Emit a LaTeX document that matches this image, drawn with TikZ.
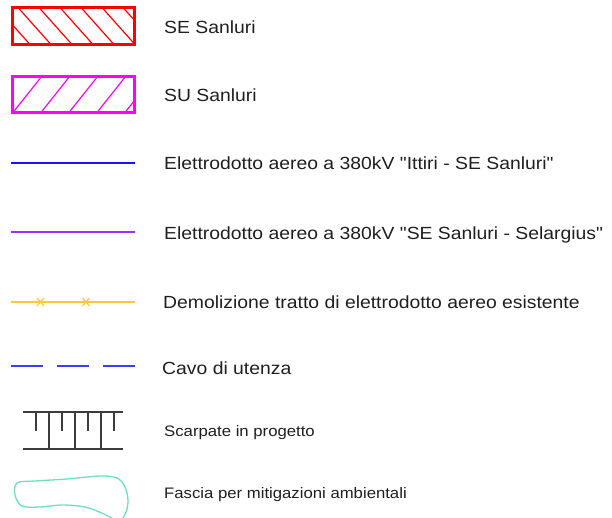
\documentclass[tikz,border=0pt]{standalone}
\usepackage{fontspec}
\setmainfont{Liberation Sans}[Ligatures=TeXOff]
\usepackage[x11names, svgnames, rgb]{xcolor}
\usepackage{tikz}
\usetikzlibrary{positioning}
\definecolor{seRed}{RGB}{255,0,0}
\definecolor{suMagenta}{RGB}{255,0,255}
\definecolor{ittiriBlue}{RGB}{20,20,255}
\definecolor{selPurple}{RGB}{150,50,255}
\definecolor{demYellow}{RGB}{255,200,60}
\definecolor{cavoBlue}{RGB}{60,60,255}
\definecolor{fasciaGreen}{RGB}{110,222,190}
\definecolor{scarpGray}{RGB}{60,60,60}
\tikzstyle{legtext}=[anchor=base west,inner sep=0pt,xscale=1.1,text=black!88,font=\fontsize{17.6}{20}\selectfont]
\tikzstyle{legsmall}=[legtext,font=\fontsize{15.2}{18}\selectfont]
\tikzstyle{area}=[line width=3pt]
\tikzstyle{hatch}=[line width=1.2pt]
\tikzstyle{wire}=[line width=2pt]
\tikzstyle{tick}=[scarpGray,line width=1.4pt]

\begin{document}
\begin{tikzpicture}[x=1pt,y=-1pt]
                \useasboundingbox (0,0) rectangle (612,517);

                % SE Sanluri
                \begin{scope}
                        \clip (12.5,7.5) rectangle (134,44.5);
                        \foreach \t in {-3,18,...,130}
                                \draw[hatch,seRed] (\t,7.5) -- ++(33,37);
                \end{scope}
                \draw[area,seRed] (12.5,7.5) rectangle (134,44.5);
                \node[legtext] (seTxt) at (164,33) {SE Sanluri};

                % SU Sanluri
                \begin{scope}
                        \clip (12.5,76) rectangle (134,112.5);
                        \foreach \t in {42,70,...,160}
                                \draw[hatch,suMagenta] (\t,76) -- ++(-29,36.5);
                \end{scope}
                \draw[area,suMagenta] (12.5,76) rectangle (134,112.5);
                \node[legtext] (suTxt) at (164,101) {SU Sanluri};

                % elettrodotti
                \draw[wire,ittiriBlue] (11,163) -- (135,163);
                \node[legtext] (ittiriTxt) at (164,169) {Elettrodotto aereo a 380kV "Ittiri - SE Sanluri"};
                \draw[wire,selPurple] (11,232) -- (135,232);
                \node[legtext] (selTxt) at (164,239) {Elettrodotto aereo a 380kV "SE Sanluri - Selargius"};

                % demolizione
                \draw[wire,demYellow] (11,302) -- (135,302);
                \foreach \x in {40.5,86}
                        \draw[demYellow,line width=1.2pt] (\x-3.5,298) -- (\x+3.5,306) (\x-3.5,306) -- (\x+3.5,298);
                \node[legtext] (demTxt) at (163,308) {Demolizione tratto di elettrodotto aereo esistente};

                % cavo
                \draw[wire,cavoBlue,dash pattern=on 32pt off 14pt] (11,366) -- (135,366);
                \node[legtext] (cavoTxt) at (162,374) {Cavo di utenza};

                % scarpate
                \draw[tick] (23,412) -- (123,412);
                \draw[tick] (23,449) -- (123,449);
                \foreach \x in {49,75,101}
                        \draw[tick] (\x,412) -- (\x,449);
                \foreach \x in {36,62,88,114}
                        \draw[tick] (\x,412) -- (\x,431);
                \node[legsmall] (scarpTxt) at (164,436) {Scarpate in progetto};

                % fascia
                \draw[fasciaGreen,line width=1.3pt] plot[smooth cycle,tension=0.55] coordinates {
                        (17,483) (35,481) (67,479) (100,476) (117,478) (125,487) (128,500) (126,512)
                        (119,521) (104,514) (85,507) (62,505) (40,507) (22,506) (15,495)};
                \node[legsmall] (fasciaTxt) at (164,498) {Fascia per mitigazioni ambientali};
\end{tikzpicture}
\end{document}
